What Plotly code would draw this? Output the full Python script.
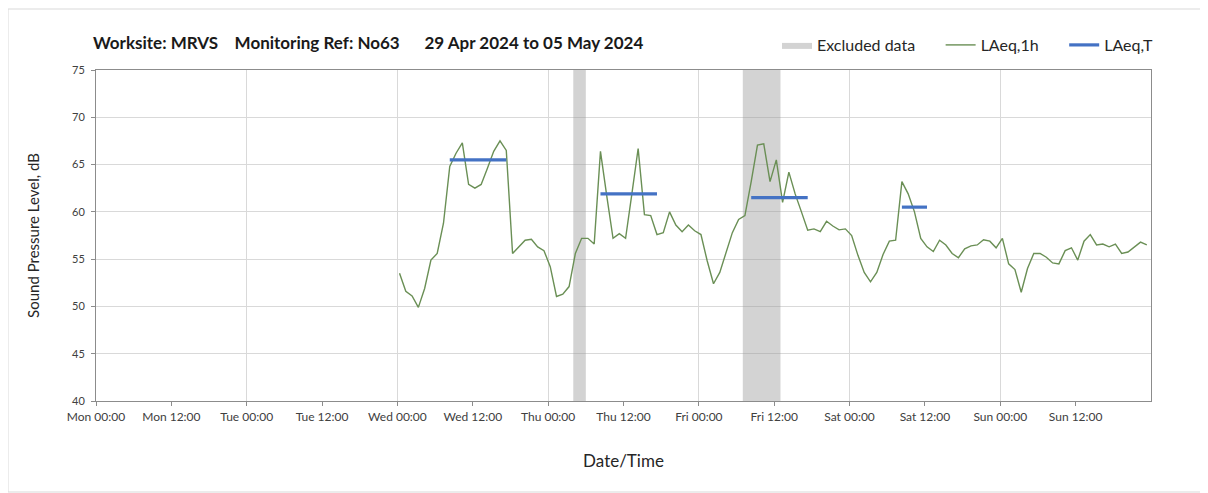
import pandas as pd
import plotly.graph_objects as go

# ---------------- data ----------------
title_text = "Worksite: MRVS    Monitoring Ref: No63      29 Apr 2024 to 05 May 2024"
axis_start = "2024-04-29 00:00"
axis_end = "2024-05-06 00:00"
tick_times = pd.date_range(axis_start, "2024-05-05 12:00", freq="12h")
tick_labels = [t.strftime("%a %H:%M") for t in tick_times]

# hourly LAeq,1h from Wed 01 May 2024 00:20, one value per hour
first_time = "2024-05-01 00:20"
laeq_1h = [
    53.5, 51.6, 51.1, 49.9, 51.9, 54.9, 55.6, 58.8, 64.8, 66.2, 67.3, 62.9,
    62.5, 62.9, 64.6, 66.4, 67.5, 66.5, 55.6, 56.3, 57.0, 57.1, 56.3, 55.9,
    54.2, 51.05, 51.3, 52.1, 55.6, 57.2, 57.2, 56.6, 66.4, 61.7, 57.2, 57.7,
    57.2, 61.9, 66.7, 59.7, 59.6, 57.6, 57.8, 60.0, 58.6, 57.9, 58.6, 58.0,
    57.6, 54.8, 52.4, 53.6, 55.6, 57.8, 59.2, 59.6, 63.2, 67.05, 67.2, 63.2,
    65.5, 61.0, 64.2, 61.9, 60.0, 58.05, 58.2, 57.9, 59.0, 58.5, 58.1, 58.2,
    57.5, 55.4, 53.6, 52.6, 53.6, 55.5, 56.9, 57.0, 63.2, 61.9, 60.0, 57.2,
    56.3, 55.8, 57.0, 56.5, 55.6, 55.15, 56.1, 56.4, 56.5, 57.05, 56.9, 56.2,
    57.2, 54.5, 53.9, 51.5, 54.0, 55.6, 55.6, 55.2, 54.6, 54.5, 55.9, 56.2,
    54.9, 56.9, 57.6, 56.5, 56.6, 56.3, 56.6, 55.6, 55.75, 56.3, 56.8, 56.5,
]

# LAeq,T periods (start, end, level)
laeq_t_start = ["2024-05-01 08:20", "2024-05-02 08:20", "2024-05-03 08:20", "2024-05-04 08:20"]
laeq_t_end = ["2024-05-01 17:20", "2024-05-02 17:20", "2024-05-03 17:20", "2024-05-04 12:20"]
laeq_t_level = [65.5, 61.9, 61.5, 60.5]

# excluded periods
excl_start = ["2024-05-02 04:00", "2024-05-03 07:00"]
excl_end = ["2024-05-02 06:00", "2024-05-03 13:00"]

y_min, y_max = 40, 75

# ---------------- figure ----------------
W, H = 1200, 485          # page body adds an 8px margin
L, R, T, B = 88, 57, 62, 92
PW, PH = W - L - R, H - T - B

times = pd.date_range(first_time, periods=len(laeq_1h), freq="h")

fig = go.Figure()

bx, by = [], []
for s, e in zip(excl_start, excl_end):
    bx += [s, s, e, e, s, None]
    by += [y_min, y_max, y_max, y_min, y_min, None]
fig.add_trace(go.Scatter(
    x=bx, y=by, fill="toself", mode="lines", line=dict(width=0),
    fillcolor="rgba(150,150,150,0.42)", name="Excluded data&nbsp;&nbsp;&nbsp;&nbsp;&nbsp;",
    hoverinfo="skip",
))

fig.add_trace(go.Scatter(
    x=times, y=laeq_1h, mode="lines", name="LAeq,1h&nbsp;&nbsp;&nbsp;&nbsp;&nbsp;",
    line=dict(color="#6a8f55", width=1.4),
))

tx, ty = [], []
for s, e, v in zip(laeq_t_start, laeq_t_end, laeq_t_level):
    tx += [s, e, None]
    ty += [v, v, None]
fig.add_trace(go.Scatter(
    x=tx, y=ty, mode="lines", name="LAeq,T",
    line=dict(color="#4472c4", width=3.2),
))

# overlay axis for daily vertical gridlines
fig.add_trace(go.Scatter(x=[axis_start, axis_end], y=[None, None], xaxis="x2",
                         showlegend=False, hoverinfo="skip"))

fig.update_layout(
    width=W, height=H,
    paper_bgcolor="white", plot_bgcolor="white",
    margin=dict(l=L, r=R, t=T, b=B, autoexpand=False),
    font=dict(family="Lato, Open Sans, sans-serif", color="#262626"),
    title=dict(text="<b>" + title_text.replace("  ", "&nbsp; ") + "</b>",
               x=85 / W, xanchor="left", y=1 - 35 / H, yanchor="middle",
               font=dict(size=17, color="#1a1a1a")),
    legend=dict(orientation="h", xref="container", x=1150 / W, xanchor="right",
                yref="container", y=1 - 37 / H, yanchor="middle",
                font=dict(size=16, color="#262626"),
                itemwidth=30, bgcolor="rgba(0,0,0,0)"),
    xaxis=dict(
        type="date", range=[axis_start, axis_end],
        tickmode="array", tickvals=tick_times, ticktext=tick_labels,
        showgrid=False, ticks="outside", ticklen=4, tickcolor="#8c8c8c",
        showline=True, linecolor="#8c8c8c", linewidth=1, mirror=True,
        tickfont=dict(family="Lato, Open Sans, sans-serif", size=12, color="#404040"),
        automargin=False, ticklabelstandoff=1,
        title=dict(text="Date/Time", font=dict(size=17, color="#262626"), standoff=31),
        zeroline=False,
    ),
    xaxis2=dict(
        type="date", range=[axis_start, axis_end], overlaying="x",
        dtick=24 * 3600 * 1000, tick0=axis_start, showgrid=True,
        gridcolor="#d9d9d9", gridwidth=1, showticklabels=False, ticks="",
        showline=False, zeroline=False, automargin=False,
    ),
    yaxis=dict(
        range=[y_min, y_max], dtick=5, showgrid=True, gridcolor="#d9d9d9",
        gridwidth=1, ticks="outside", ticklen=4, tickcolor="#8c8c8c",
        showline=True, linecolor="#8c8c8c", linewidth=1, mirror=True,
        tickfont=dict(family="Lato, Open Sans, sans-serif", size=11, color="#404040"),
        zeroline=False, automargin=False, ticklabelstandoff=4,
        title=dict(text="Sound Pressure Level, dB", font=dict(size=15, color="#262626"),
                   standoff=28),
    ),
    showlegend=True,
)

# outer chart frame
fig.add_shape(type="rect", xref="paper", yref="paper",
              x0=-L / PW, x1=(W - 1 - L) / PW,
              y0=-(B - 1) / PH, y1=1 + (T - 1) / PH,
              line=dict(color="#d9d9d9", width=1), layer="below")

fig.write_html("out.html")
